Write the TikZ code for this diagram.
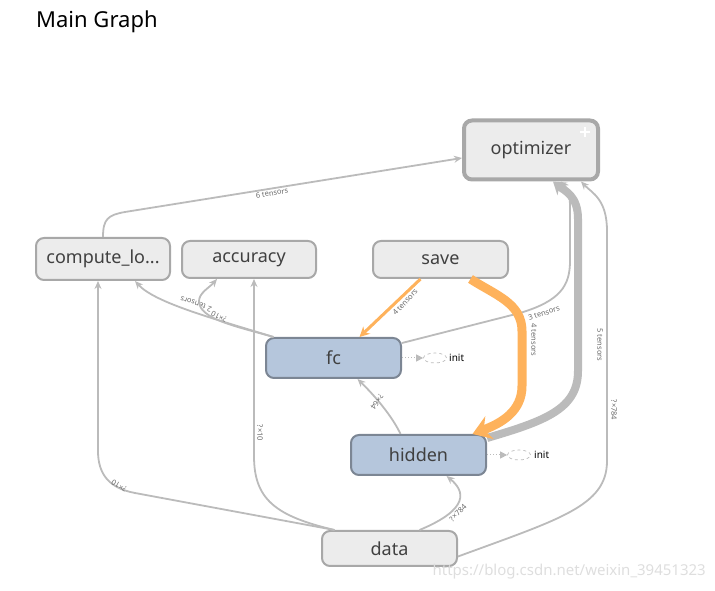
\documentclass[tikz,border=0pt]{standalone}
\usepackage{fontspec}
\setmainfont{Noto Sans}
\usetikzlibrary{arrows.meta,shapes.geometric,calc}
\definecolor{edgegray}{RGB}{187,187,187}
\definecolor{orng}{RGB}{254,178,92}
\definecolor{nodefill}{RGB}{236,236,236}
\definecolor{nodeborder}{RGB}{168,168,168}
\definecolor{bluefill}{RGB}{181,198,220}
\definecolor{blueborder}{RGB}{124,134,148}
\definecolor{txt}{RGB}{64,64,64}
\definecolor{lbl}{RGB}{105,105,105}
\tikzset{
  opnode/.style={draw=nodeborder, fill=nodefill, line width=2pt, rounded corners=8pt,
    text=txt, font=\fontsize{18}{21}\selectfont, inner sep=0pt},
  bluenode/.style={draw=blueborder, fill=bluefill, line width=2pt, rounded corners=8pt,
    text=txt, font=\fontsize{18}{21}\selectfont, inner sep=0pt},
  initnode/.style={ellipse, draw=edgegray, dashed, line width=0.7pt, minimum width=23pt,
    minimum height=10pt, inner sep=0pt},
  inittext/.style={font=\fontsize{10}{12}\selectfont, text=black, anchor=west, inner sep=0pt},
  edge/.style={draw=edgegray, line width=1.8pt, -{Stealth[length=8pt,width=7pt]}},
  thickedge/.style={draw=edgegray, line width=8pt, -{Stealth[length=12pt,width=16pt,inset=4pt]}},
  orangeedge/.style={draw=orng, line width=3pt, -{Stealth[length=10pt,width=10pt]}},
  thickorange/.style={draw=orng, line width=9pt, -{Stealth[length=18pt,width=24pt,inset=6pt]}},
  dotedge/.style={draw=edgegray, dotted, line width=1pt, -{Triangle[length=7pt,width=7pt]}},
  elabel/.style={font=\fontsize{7.5}{8}\selectfont, text=lbl, inner sep=0pt}
}
\begin{document}
\begin{tikzpicture}[x=1pt,y=1pt]
\useasboundingbox (0,0) rectangle (715,591);
% title
\node[anchor=west, inner sep=0pt, font=\fontsize{22}{26}\selectfont, text=black] (title) at (36,569) {Main Graph};
% nodes
\node[opnode, line width=4pt, minimum width=134pt, minimum height=59pt] (opt) at (531,441) {optimizer};
\coordinate (plus) at (585,459);
\draw[white, line width=1.8pt] ([xshift=-5pt]plus) -- ([xshift=5pt]plus) ([yshift=-5pt]plus) -- ([yshift=5pt]plus);
\node[opnode, minimum width=134pt, minimum height=42pt] (comp) at (103,332) {compute\_lo...};
\node[opnode, minimum width=134pt, minimum height=37pt] (acc) at (249,331.5) {accuracy};
\node[opnode, minimum width=135pt, minimum height=37pt] (save) at (440.5,331.5) {save};
\node[bluenode, minimum width=135pt, minimum height=40pt] (fc) at (333.5,233) {fc};
\node[bluenode, minimum width=135pt, minimum height=40pt] (hidden) at (418.5,136) {hidden};
\node[opnode, minimum width=135pt, minimum height=35pt] (data) at (389.5,42.5) {data};
% init nodes
\node[initnode] (fcinit) at (435,233) {};
\node[inittext] (fcinittxt) at (449,233) {init};
\node[initnode] (hinit) at (519,136) {};
\node[inittext] (hinittxt) at (534,136) {init};
\draw[dotedge] (fc.east) -- (fcinit.west);
\draw[dotedge] (hidden.east) -- (hinit.west);
% watermark
\node[anchor=east, inner sep=0pt, font=\fontsize{15}{18}\selectfont, text=black!13] (wm) at (706,19) {https://blog.csdn.net/weixin\_39451323};

% compute_lo -> optimizer
\draw[edge] (comp.north) .. controls (103,372) and (108,376) .. (125,379) -- ([yshift=-8]opt.west);
\node[elabel, rotate=9] (l1) at (272,398) {6 tensors};

% fc -> compute_lo
\draw[edge] ([xshift=-60]fc.north) .. controls (215,272) and (155,288) .. ([xshift=32]comp.south);
\node[elabel, rotate=160] (l2) at (196,287) {2 tensors};
% fc -> accuracy
\draw[edge] ([xshift=-60]fc.north) .. controls (235,265) and (199,272) .. (199,290)
  .. controls (199,298) and (210,304) .. ([xshift=-32]acc.south);
\node[elabel, rotate=155] (l3) at (219,274) {?×10};

% data -> compute_lo
\draw[edge] ([xshift=-55]data.north) -- (135,98) .. controls (108,103) and (98,118) .. (98,140) -- ([xshift=-5]comp.south);
\node[elabel, rotate=150] (l4) at (119,105) {?×10};
% data -> accuracy
\draw[edge] ([xshift=-55]data.north) .. controls (275,75) and (254,92) .. (254,135) -- ([xshift=5]acc.south);
\node[elabel, rotate=-90] (l5) at (260,158) {?×10};

% data -> hidden
\draw[edge] ([xshift=30]data.north) .. controls (470,82) and (465,100) .. ([xshift=28]hidden.south);
\node[elabel, rotate=45] (l6) at (458,78) {?×784};

% data -> optimizer
\draw[edge] ([yshift=-8]data.east) .. controls (560,72) and (607,85) .. (607,130) -- (607,360)
  .. controls (607,392) and (592,398) .. ([xshift=50]opt.south);
\node[elabel, rotate=-90] (l7) at (614,181) {?×784};

% hidden -> fc
\draw[edge] ([xshift=-18]hidden.north) .. controls (392,175) and (375,195) .. ([xshift=24]fc.south);
\node[elabel, rotate=-125] (l8) at (377,189) {?×64};

% fc -> optimizer
\draw[edge] ([yshift=15]fc.east) -- (520,278) .. controls (560,290) and (570,305) .. (570,330) -- (570,385)
  .. controls (570,400) and (565,405) .. ([xshift=30]opt.south);
\node[elabel, rotate=18] (l9) at (544,278) {3 tensors};

% hidden -> optimizer (thick)
\draw[thickedge] ([yshift=17]hidden.east) .. controls (545,170) and (578,182) .. (578,220) -- (578,372)
  .. controls (578,395) and (565,400) .. ([xshift=22]opt.south);
\node[elabel, rotate=-90] (l10) at (600,246) {5 tensors};

% save -> fc (orange)
\draw[orangeedge] ([xshift=-20]save.south) -- ([xshift=26]fc.north);
\node[elabel, rotate=47] (l11) at (405,289) {4 tensors};

% save -> hidden (thick orange)
\draw[thickorange] ([xshift=30]save.south) .. controls (495,296) and (522,288) .. (522,260) -- (522,205)
  .. controls (522,180) and (502,168) .. ([xshift=54]hidden.north);
\node[elabel, rotate=-90] (l12) at (534,251) {4 tensors};
\end{tikzpicture}
\end{document}
